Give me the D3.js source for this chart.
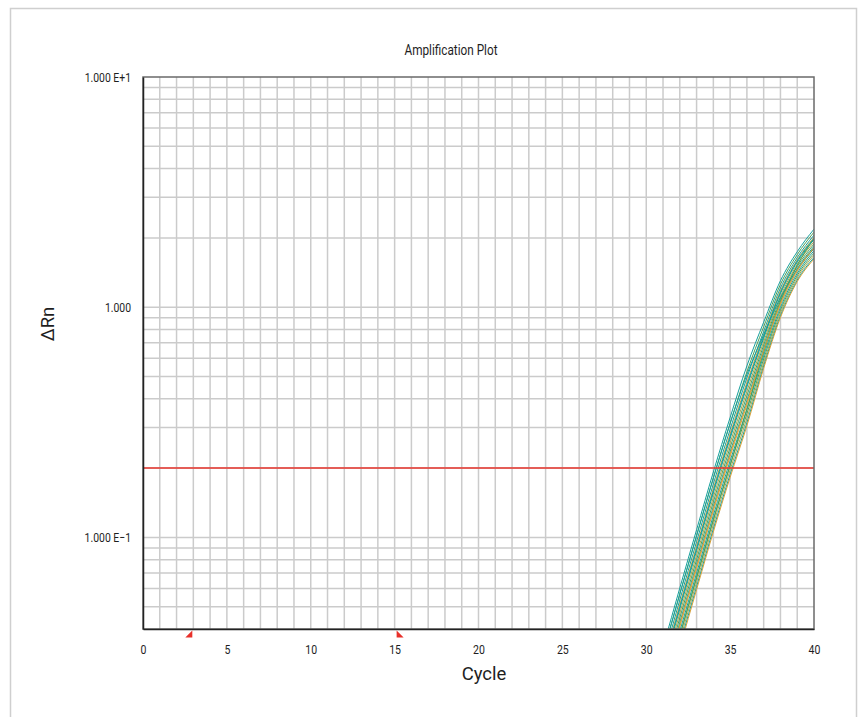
<!DOCTYPE html>
<html>
<head>
<meta charset="utf-8">
<script src="https://cdn.jsdelivr.net/npm/d3@7/dist/d3.min.js"></script>
<style>
  html, body { margin: 0; padding: 0; background: #fff; }
  svg { display: block; }
  text { font-family: Roboto, "Liberation Sans", sans-serif; }
</style>
</head>
<body>
<svg id="chart" width="858" height="717"></svg>
<script>
// ---------------- data ----------------
const title = "Amplification Plot";
const xLabel = "Cycle";
const yLabel = "\u0394Rn";
const xDomain = [0, 40];
const yDomain = [0.04, 10];
const xTicks = [0, 5, 10, 15, 20, 25, 30, 35, 40];
const yTickValues = [10, 1, 0.1];
const yTickLabels = ["1.000 E+1", "1.000", "1.000 E\u22121"];
const threshold = 0.2;
const baselineStart = 3;
const baselineEnd = 15;
const cycles = [30, 31, 32, 33, 34, 35, 36, 37, 38, 39, 40];
// detector / sample group of each well
const wellGroup = ["A", "B", "A", "C", "A", "D", "B", "A", "C", "A", "B", "D", "A", "C", "A", "B", "A", "C"];
// delta Rn for each well at the cycles above
const wellValues = [
  [0.0182, 0.0332, 0.0603, 0.1079, 0.1924, 0.3319, 0.5558, 0.861, 1.303, 1.742, 2.183],
  [0.0172, 0.0313, 0.0568, 0.1017, 0.1812, 0.3127, 0.5237, 0.822, 1.256, 1.691, 2.119],
  [0.0162, 0.0294, 0.0535, 0.0958, 0.1707, 0.2945, 0.4932, 0.785, 1.211, 1.641, 2.057],
  [0.0154, 0.0281, 0.0511, 0.0915, 0.1631, 0.2814, 0.4713, 0.759, 1.178, 1.605, 2.012],
  [0.0148, 0.0269, 0.0489, 0.0875, 0.1560, 0.2691, 0.4507, 0.733, 1.146, 1.569, 1.966],
  [0.0141, 0.0257, 0.0468, 0.0837, 0.1492, 0.2573, 0.4310, 0.708, 1.114, 1.535, 1.923],
  [0.0135, 0.0246, 0.0447, 0.0800, 0.1426, 0.2460, 0.4120, 0.684, 1.084, 1.500, 1.880],
  [0.0129, 0.0235, 0.0427, 0.0765, 0.1363, 0.2352, 0.3939, 0.661, 1.055, 1.467, 1.839],
  [0.0123, 0.0225, 0.0409, 0.0731, 0.1303, 0.2248, 0.3766, 0.638, 1.025, 1.434, 1.797],
  [0.0118, 0.0215, 0.0391, 0.0699, 0.1246, 0.2150, 0.3601, 0.617, 0.997, 1.403, 1.758],
  [0.0113, 0.0206, 0.0374, 0.0669, 0.1192, 0.2057, 0.3444, 0.596, 0.970, 1.371, 1.718],
  [0.0108, 0.0197, 0.0357, 0.0639, 0.1139, 0.1966, 0.3292, 0.575, 0.944, 1.341, 1.681],
  [0.0103, 0.0188, 0.0342, 0.0611, 0.1089, 0.1879, 0.3148, 0.556, 0.918, 1.311, 1.643],
  [0.0100, 0.0182, 0.0331, 0.0593, 0.1057, 0.1823, 0.3053, 0.543, 0.902, 1.292, 1.619],
  [0.0172, 0.0313, 0.0568, 0.1017, 0.1812, 0.3127, 0.5100, 0.760, 1.100, 1.460, 1.800],
  [0.0113, 0.0206, 0.0374, 0.0669, 0.1192, 0.2057, 0.3600, 0.640, 1.060, 1.520, 1.990],
  [0.0150, 0.0275, 0.0500, 0.0895, 0.1595, 0.2750, 0.4600, 0.745, 1.160, 1.590, 1.990],
  [0.0126, 0.0230, 0.0418, 0.0748, 0.1333, 0.2300, 0.3850, 0.650, 1.040, 1.450, 1.815]
];

// ---------------- layout ----------------
const svg = d3.select("#chart");
const M = { left: 143, top: 77, right: 814, bottom: 629 };
const x = d3.scaleLinear().domain(xDomain).range([M.left, M.right]);
const y = d3.scaleLog().domain(yDomain).range([M.bottom, M.top]);
const color = d3.scaleOrdinal().domain(["A", "B", "C", "D"])
  .range(["#16a09c", "#4c9f57", "#d6a03a", "#a8a64a"]);

function label(x0, y0, txt, size, sx, anchor, rot) {
  return svg.append("text")
    .attr("transform", `translate(${x0},${y0})` + (rot ? ` rotate(${rot})` : "") + ` scale(${sx},1)`)
    .attr("text-anchor", anchor).attr("font-size", size).attr("fill", "#1e1e1e").text(txt);
}

// outer frame
svg.append("rect").attr("x", 10.5).attr("y", 8.5).attr("width", 846).attr("height", 730)
  .attr("fill", "none").attr("stroke", "#cfcfcf").attr("stroke-width", 1.5);

// title
label(451, 54.5, title, 15.5, 0.76, "middle");

const plot = svg.append("g");

// grid
const vGrid = d3.range(xDomain[0] + 1, xDomain[1]);
plot.append("g").selectAll("line").data(vGrid).join("line")
  .attr("x1", d => x(d)).attr("x2", d => x(d))
  .attr("y1", M.top).attr("y2", M.bottom)
  .attr("stroke", "#cbcbcb").attr("stroke-width", 1.5);

const hGrid = y.ticks().filter(d => d > yDomain[0] && d < yDomain[1]);
plot.append("g").selectAll("line").data(hGrid).join("line")
  .attr("x1", M.left).attr("x2", M.right)
  .attr("y1", d => y(d)).attr("y2", d => y(d))
  .attr("stroke", "#cbcbcb").attr("stroke-width", 1.5);

// clip
svg.append("clipPath").attr("id", "clip").append("rect")
  .attr("x", M.left).attr("y", M.top).attr("width", M.right - M.left).attr("height", M.bottom - M.top);

// curves
const line = d3.line()
  .x((d, i) => x(cycles[i]))
  .y(d => y(d))
  .curve(d3.curveMonotoneX);

plot.append("g").attr("clip-path", "url(#clip)")
  .selectAll("path").data(wellValues).join("path")
  .attr("d", d => line(d))
  .attr("fill", "none")
  .attr("stroke", (d, i) => color(wellGroup[i]))
  .attr("stroke-width", 1);

// threshold
plot.append("line")
  .attr("x1", M.left).attr("x2", M.right)
  .attr("y1", y(threshold)).attr("y2", y(threshold))
  .attr("stroke", "#e8352c").attr("stroke-width", 1.5);

// plot frame
plot.append("rect").attr("x", M.left).attr("y", M.top)
  .attr("width", M.right - M.left).attr("height", M.bottom - M.top)
  .attr("fill", "none").attr("stroke", "#6a6a6a").attr("stroke-width", 1.5);

// axes (left + bottom, dark)
const xAxis = d3.axisBottom(x).tickValues(xTicks).tickSize(0).tickPadding(15).tickFormat(d3.format("d"));
const gx = svg.append("g").attr("transform", `translate(0,${M.bottom})`).call(xAxis);
gx.select(".domain").attr("stroke", "#222").attr("stroke-width", 1.5);
gx.selectAll("text").attr("font-size", 13.5).attr("fill", "#1e1e1e")
  .attr("font-family", "Roboto, sans-serif").attr("transform", "scale(0.78,1)");

const yAxis = d3.axisLeft(y).tickValues(yTickValues).tickSize(0).tickPadding(15)
  .tickFormat((d, i) => yTickLabels[i]);
const gy = svg.append("g").attr("transform", `translate(${M.left},0)`).call(yAxis);
gy.select(".domain").attr("stroke", "#222").attr("stroke-width", 1.5);
gy.selectAll("text").attr("font-size", 13).attr("fill", "#1e1e1e")
  .attr("font-family", "Roboto, sans-serif").attr("transform", "scale(0.8,1)");

// baseline markers
const tri = 7;
svg.append("path")
  .attr("d", `M${x(baselineStart) - 1 - tri},${M.bottom + 8.5} L${x(baselineStart) - 1},${M.bottom + 8.5} L${x(baselineStart) - 1},${M.bottom + 1.5} Z`)
  .attr("fill", "#e8302a");
svg.append("path")
  .attr("d", `M${x(baselineEnd) + 2},${M.bottom + 1.5} L${x(baselineEnd) + 2},${M.bottom + 8.5} L${x(baselineEnd) + 2 + tri},${M.bottom + 8.5} Z`)
  .attr("fill", "#e8302a");

// axis titles
label(484, 680, xLabel, 18.5, 1, "middle");
label(54, 324, yLabel, 18.5, 1, "middle", -90);
</script>
</body>
</html>
